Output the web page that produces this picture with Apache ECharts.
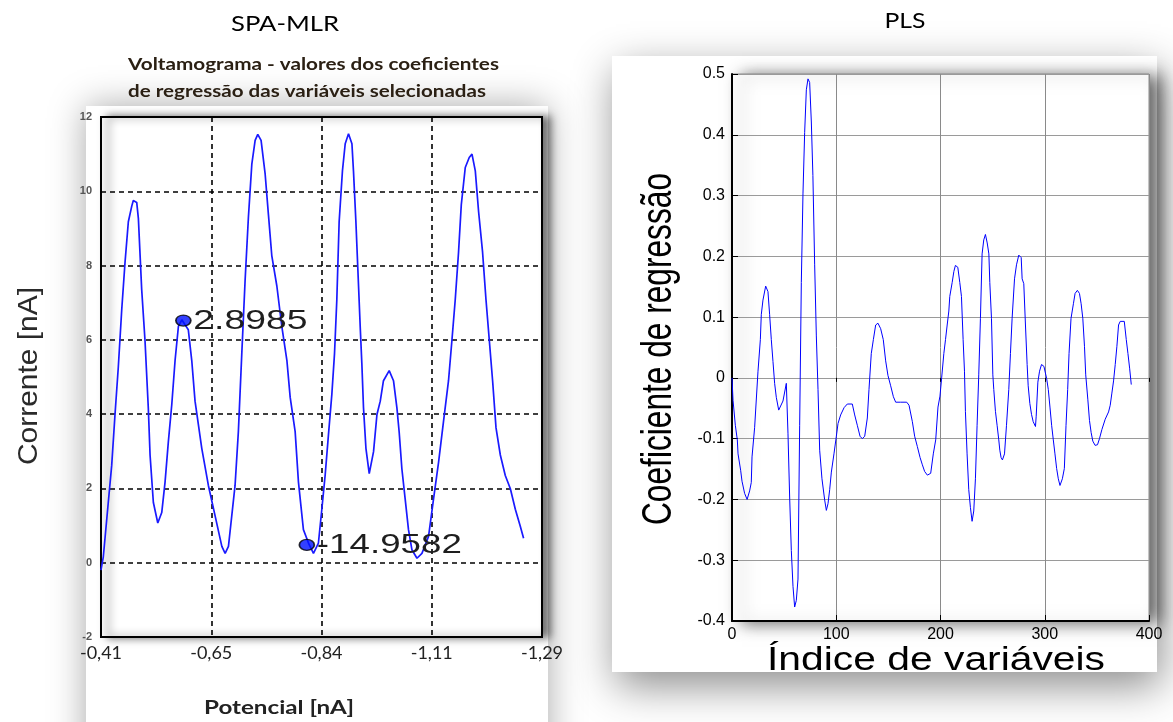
<!DOCTYPE html>
<html>
<head>
<meta charset="utf-8">
<script src="https://cdn.jsdelivr.net/npm/echarts@6.0.0/dist/echarts.min.js"></script>
<style>
  html, body { margin: 0; padding: 0; background: #fff; }
  #c { width: 1173px; height: 722px; }
</style>
</head>
<body>
<div id="c"></div>
<script>
// ---------- DATA ----------
// Left panel (SPA-MLR voltammogram): x = position along potential axis (0..400, 100 per labelled tick)
const spaXTickLabels = ['-0,41', '-0,65', '-0,84', '-1,11', '-1,29'];
const spaYTickLabels = ['-2', '0', '2', '4', '6', '8', '10', '12'];
const spaCurve = [
  [0, -0.2], [2.1, 0.16], [6.6, 1.62], [9.7, 2.62], [12.7, 3.99], [15.7, 5.27], [18.8, 6.81], [21.8, 8.09],
  [24.8, 9.18], [27.9, 9.6], [29.3, 9.75], [32.4, 9.7], [33.9, 9.27], [36.9, 7.36], [39.9, 5.99], [42.9, 4.17],
  [44.5, 2.9], [47.5, 1.62], [51.5, 1.07], [55.1, 1.35], [58.1, 2.17], [61.1, 3.26], [64.2, 4.26], [67.2, 5.45],
  [70.2, 6.36], [73.3, 6.54], [74.7, 6.55], [79.2, 6.27], [82.3, 5.45], [85.3, 4.35], [91.4, 3.08], [97.4, 2.08],
  [103.5, 1.26], [109.6, 0.44], [112.6, 0.25], [115.6, 0.44], [118.6, 1.26], [121.6, 2.08], [124.6, 3.53],
  [127.7, 5.63], [130.7, 7.6], [133.7, 9.3], [136.8, 10.73], [139.8, 11.37], [142.2, 11.53], [145.2, 11.37],
  [148.9, 10.46], [151.9, 9.36], [154.9, 8.27], [159.5, 7.45], [164.0, 6.36], [168.6, 5.45], [171.6, 4.45],
  [176.1, 3.53], [179.1, 2.17], [183.6, 0.89], [188.2, 0.53], [192.7, 0.25], [197.2, 0.53], [200.3, 1.44],
  [203.3, 2.35], [206.3, 3.44], [209.4, 4.54], [211.8, 5.63], [213.9, 7.08], [216.0, 9.18], [219.0, 10.55],
  [221.5, 11.28], [224.5, 11.55], [227.6, 11.28], [229.0, 10.55], [231.2, 9.18], [233.6, 7.45], [235.1, 6.36],
  [236.6, 5.36], [238.1, 4.17], [240.3, 3.08], [243.3, 2.4], [247.2, 2.99], [250.3, 3.99], [253.3, 4.35],
  [256.2, 4.9], [261.4, 5.17], [265.3, 4.9], [268.4, 4.17], [270.5, 3.5], [272.9, 2.53], [275.9, 1.71],
  [278.9, 0.89], [282.0, 0.35], [286.6, 0.12], [291.1, 0.25], [297.1, 0.71], [301.6, 1.71], [306.2, 2.71],
  [310.7, 3.81], [315.2, 4.9], [318.3, 5.99], [321.3, 7.08], [324.3, 8.36], [326.8, 9.64], [330.4, 10.64],
  [334.0, 10.91], [336.5, 11.0], [339.5, 10.55], [342.5, 9.45], [346.1, 8.36], [349.2, 7.08], [352.2, 5.99],
  [355.2, 4.9], [358.3, 3.63], [362.2, 2.9], [366.7, 2.35], [371.3, 1.99], [375.8, 1.44], [380.3, 0.98], [383.3, 0.66]
];
const spaMarkers = [[74.7, 6.52], [186.7, 0.48]];
const spaMarkerLabels = ['2.8985', '-14.9582'];

// Right panel (PLS regression coefficients)
const plsXTickLabels = ['0', '100', '200', '300', '400'];
const plsYTickLabels = ['-0.4', '-0.3', '-0.2', '-0.1', '0', '0.1', '0.2', '0.3', '0.4', '0.5'];
const plsCurve = [
  [0, 0.0], [1.0, -0.037], [3.2, -0.078], [5.1, -0.102], [5.8, -0.125], [8.3, -0.152], [9.6, -0.17], [12.1, -0.19],
  [14.5, -0.2], [16.9, -0.186], [18.5, -0.172], [19.2, -0.13], [21.7, -0.082], [24.9, 0.01], [27.2, 0.063],
  [28.1, 0.104], [29.7, 0.128], [32.3, 0.151], [34.5, 0.142], [36.1, 0.104], [37.7, 0.063], [39.3, 0.027],
  [40.9, -0.009], [42.5, -0.032], [44.8, -0.053], [46.7, -0.056], [48.9, -0.038], [52.1, -0.009], [53.7, -0.091],
  [55.3, -0.196], [56.9, -0.284], [58.5, -0.343], [60.1, -0.377], [61.7, -0.366], [63.3, -0.331], [64.9, -0.078],
  [66.5, 0.157], [68.1, 0.304], [69.7, 0.404], [71.3, 0.474], [72.9, 0.492], [74.5, 0.486], [76.1, 0.421],
  [77.6, 0.333], [79.3, 0.186], [80.9, 0.069], [82.5, -0.019], [84.1, -0.119], [86.3, -0.166], [88.9, -0.201],
  [90.5, -0.218], [92.1, -0.207], [93.7, -0.184], [95.3, -0.155], [97.8, -0.125], [100.1, -0.096], [101.7, -0.075],
  [104.2, -0.061], [107.5, -0.049], [110.6, -0.043], [115.4, -0.043], [117.7, -0.061], [120.2, -0.078],
  [122.8, -0.096], [125.0, -0.1], [127.3, -0.096], [129.8, -0.066], [131.4, -0.019], [133.6, 0.04], [135.6, 0.063],
  [137.8, 0.087], [140.0, 0.09], [142.6, 0.081], [145.1, 0.063], [147.4, 0.028], [149.6, 0.004], [152.2, -0.013],
  [154.8, -0.031], [157.0, -0.04], [161.8, -0.04], [167.6, -0.04], [169.8, -0.045], [173.0, -0.072], [175.2, -0.096],
  [177.8, -0.113], [180.4, -0.131], [182.6, -0.143], [184.8, -0.154], [187.4, -0.16], [190.6, -0.157],
  [193.1, -0.125], [195.4, -0.102], [197.6, -0.048], [199.5, -0.03], [201.1, 0.0], [203.2, 0.04], [204.8, 0.063],
  [206.4, 0.087], [208.0, 0.11], [208.9, 0.134], [211.2, 0.157], [212.8, 0.175], [214.3, 0.185], [216.6, 0.182],
  [218.5, 0.157], [220.1, 0.134], [221.7, 0.063], [223.0, 0.011], [223.9, -0.055], [225.5, -0.125], [227.1, -0.184],
  [228.7, -0.213], [230.3, -0.236], [231.9, -0.219], [233.5, -0.166], [235.1, -0.078], [236.7, 0.005],
  [238.3, 0.098], [239.9, 0.204], [241.5, 0.227], [243.1, 0.236], [244.8, 0.222], [246.4, 0.204], [247.3, 0.157],
  [248.9, 0.098], [250.2, 0.005], [251.1, -0.019], [252.7, -0.055], [254.3, -0.078], [255.9, -0.102],
  [256.9, -0.119], [258.1, -0.131], [259.4, -0.135], [261.4, -0.125], [263.3, -0.078], [265.5, -0.019],
  [267.1, 0.04], [268.7, 0.098], [271.0, 0.163], [272.9, 0.186], [275.1, 0.202], [277.4, 0.198], [278.3, 0.163],
  [279.9, 0.155], [281.5, 0.087], [283.1, 0.022], [284.1, -0.013], [285.7, -0.042], [287.3, -0.06], [288.9, -0.072],
  [290.5, -0.069], [291.1, -0.08], [291.8, -0.063], [293.4, -0.007], [295.0, 0.011], [296.9, 0.022], [299.2, 0.019],
  [301.8, -0.001], [303.4, -0.019], [305.0, -0.048], [306.6, -0.078], [308.2, -0.102], [309.8, -0.125],
  [311.4, -0.149], [313.0, -0.166], [314.6, -0.177], [316.9, -0.166], [318.8, -0.149], [320.4, -0.078],
  [322.0, -0.019], [323.3, 0.04], [325.2, 0.098], [327.5, 0.122], [329.1, 0.139], [331.3, 0.144], [333.3, 0.139],
  [334.9, 0.122], [336.5, 0.098], [338.1, 0.052], [339.3, 0.005], [341.3, -0.035], [342.9, -0.07], [344.5, -0.09],
  [346.1, -0.104], [348.3, -0.111], [350.6, -0.11], [352.5, -0.1], [354.8, -0.085], [358.0, -0.068],
  [361.2, -0.056], [362.8, -0.045], [364.4, -0.025], [366.0, -0.005], [367.6, 0.022], [369.2, 0.052],
  [370.8, 0.087], [372.4, 0.093], [374.0, 0.096], [376.3, 0.093], [378.2, 0.063], [379.8, 0.04], [381.4, 0.016],
  [383.0, -0.011]
];

// ---------- CHART ----------
const chart = echarts.init(document.getElementById('c'), null, { renderer: 'canvas' });

const measureCtx = document.createElement('canvas').getContext('2d');
function fitScale(text, font, target) {
  measureCtx.font = font;
  return target / measureCtx.measureText(text).width;
}

const option = {
  animation: false,
  backgroundColor: '#fff',
  grid: [
    { left: 101, top: 117, width: 441, height: 520, show: true, backgroundColor: '#fff',
      borderColor: '#000', borderWidth: 2,
      shadowBlur: 8, shadowOffsetX: 7, shadowOffsetY: 0, shadowColor: 'rgba(0,0,0,0.55)' },
    { left: 732, top: 74, width: 417, height: 547, show: true, backgroundColor: '#fff',
      borderColor: '#8a8a8a', borderWidth: 1,
      shadowBlur: 16, shadowOffsetX: 10, shadowOffsetY: 2, shadowColor: 'rgba(0,0,0,0.6)' }
  ],
  xAxis: [
    { type: 'value', gridIndex: 0, min: 0, max: 400, interval: 100,
      axisLine: { show: true, onZero: false, lineStyle: { color: '#000', width: 2 } },
      axisTick: { show: false },
      axisLabel: { margin: 7, fontFamily: 'Lato', fontSize: 18, color: '#222',
        formatter: v => spaXTickLabels[Math.round(v / 100)] },
      splitLine: { show: true, lineStyle: { color: '#000', width: 1.6, type: [5, 4] } } },
    { type: 'value', gridIndex: 1, min: 0, max: 400, interval: 100,
      axisLine: { show: true, onZero: false, lineStyle: { color: '#000', width: 2 } },
      axisTick: { show: true, inside: true, length: 6, lineStyle: { color: '#000' } },
      axisLabel: { margin: 6, fontFamily: 'Liberation Sans', fontSize: 16, color: '#000',
        formatter: v => plsXTickLabels[Math.round(v / 100)] },
      splitLine: { show: true, lineStyle: { color: '#8a8a8a', width: 1 } } },
    { type: 'value', gridIndex: 1, position: 'top', min: 0, max: 400, interval: 100,
      axisLine: { show: false }, axisLabel: { show: false }, splitLine: { show: false },
      axisTick: { show: true, inside: true, length: 4, lineStyle: { color: '#000' } } }
  ],
  yAxis: [
    { type: 'value', gridIndex: 0, min: -2, max: 12, interval: 2,
      axisLine: { show: true, onZero: false, lineStyle: { color: '#000', width: 2 } },
      axisTick: { show: false },
      axisLabel: { margin: 9, fontFamily: 'Liberation Sans', fontSize: 11, fontWeight: 'bold', color: '#555',
        formatter: v => spaYTickLabels[Math.round((v + 2) / 2)] },
      splitLine: { show: true, lineStyle: { color: '#000', width: 1.6, type: [5, 4] } } },
    { type: 'value', gridIndex: 1, min: -0.4, max: 0.5, interval: 0.1,
      axisLine: { show: true, onZero: false, lineStyle: { color: '#000', width: 2 } },
      axisTick: { show: true, inside: true, length: 6, lineStyle: { color: '#000' } },
      axisLabel: { margin: 7, fontFamily: 'Liberation Sans', fontSize: 16, color: '#000',
        formatter: v => plsYTickLabels[Math.round((v + 0.4) / 0.1)] },
      splitLine: { show: true, lineStyle: { color: '#9a9a9a', width: 1 } } },
    { type: 'value', gridIndex: 1, position: 'right', min: -0.4, max: 0.5, interval: 0.1,
      axisLine: { show: false }, axisLabel: { show: false }, splitLine: { show: false },
      axisTick: { show: true, inside: false, length: 5, lineStyle: { color: '#000' } } }
  ],
  series: [
    { type: 'line', xAxisIndex: 0, yAxisIndex: 0, data: spaCurve, showSymbol: false, smooth: false,
      lineStyle: { color: '#1a1aff', width: 1.7 }, z: 3 },
    { type: 'scatter', xAxisIndex: 0, yAxisIndex: 0, data: spaMarkers, symbol: 'circle', symbolSize: [15, 11],
      itemStyle: { color: '#0010ff', borderColor: '#000', borderWidth: 1.5 }, z: 5 },
    { type: 'line', xAxisIndex: 1, yAxisIndex: 1, data: plsCurve, showSymbol: false, smooth: false,
      lineStyle: { color: '#0000ff', width: 1 }, z: 3 }
  ]
};
chart.setOption(option);

function txt(text, x, y, o) {
  o = o || {};
  const font = (o.weight || 'normal') + ' ' + o.size + 'px ' + o.family;
  let sx = 1;
  if (o.target) sx = fitScale(text, font, o.target);
  const el = {
    type: 'text', x: x, y: y, z: 50,
    rotation: o.rot || 0,
    style: {
      text: text, fontFamily: o.family, fontSize: o.size, fontWeight: o.weight || 'normal',
      fill: o.color || '#000',
      align: o.align || 'center', textAlign: o.align || 'center',
      verticalAlign: 'middle', textVerticalAlign: 'middle'
    }
  };
  el.scaleX = sx;
  if (o.sy) el.scaleY = o.sy;
  return el;
}

const graphics = [
  // panel backgrounds with soft shadows
  { type: 'rect', z: -10, shape: { x: 86, y: 106, width: 462, height: 680 },
    style: { fill: '#fff', shadowBlur: 34, shadowColor: 'rgba(0,0,0,0.34)' } },
  { type: 'rect', z: -9, shape: { x: 612, y: 56, width: 545, height: 616 },
    style: { fill: '#fff', shadowBlur: 40, shadowOffsetX: 4, shadowOffsetY: 14, shadowColor: 'rgba(0,0,0,0.45)' } },

  txt('SPA-MLR', 285, 24, { family: 'Lato', size: 22, target: 108, color: '#000' }),
  txt('Voltamograma - valores dos coeficientes', 128, 65,
      { family: 'Lato', size: 17, weight: 'bold', align: 'left', target: 371, color: '#2b2014' }),
  txt('de regressão das variáveis selecionadas', 128, 92,
      { family: 'Lato', size: 17, weight: 'bold', align: 'left', target: 358, color: '#2b2014' }),
  txt('Corrente [nA]', 29, 376, { family: 'Liberation Sans', size: 28, rot: Math.PI / 2, color: '#2a2a2a', target: 178 }),
  txt('Potencial [nA]', 279, 708, { family: 'Lato', size: 19, weight: 'bold', target: 150, color: '#222' }),

  txt('PLS', 905, 21, { family: 'Lato', size: 21, target: 41, color: '#000' }),
  txt('Coeficiente de regressão', 659, 349,
      { family: 'Liberation Sans', size: 32, rot: Math.PI / 2, target: 352, sy: 1.35, color: '#000' }),
  txt('Índice de variáveis', 936, 661, { family: 'Liberation Sans', size: 34, target: 338, color: '#000' })
];

// annotation labels next to the highlighted points (positions derived from the data)
const labelTargets = [114, 145];
spaMarkers.forEach((m, i) => {
  const p = chart.convertToPixel({ gridIndex: 0 }, m);
  graphics.push(txt(spaMarkerLabels[i], p[0] + 10, p[1] + 1,
    { family: 'Liberation Sans', size: 27, align: 'left', target: labelTargets[i], color: '#1e1e1e' }));
});

chart.setOption({ graphic: graphics });
</script>
</body>
</html>
